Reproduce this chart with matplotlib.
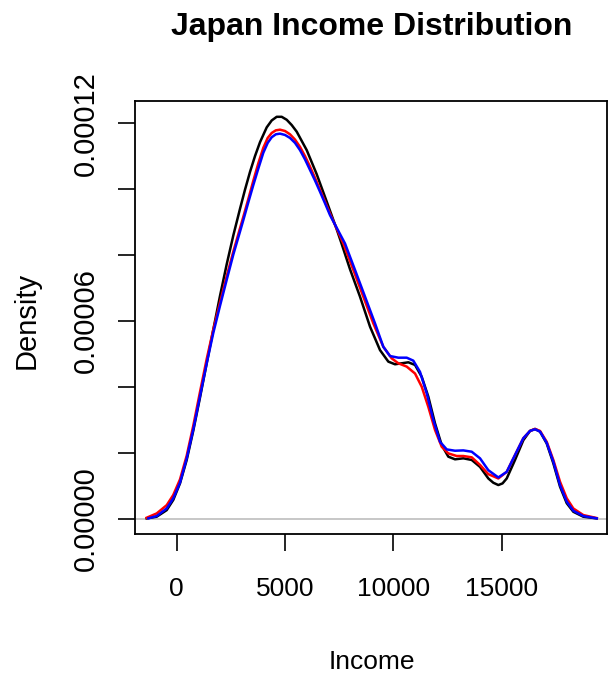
import matplotlib
matplotlib.use('Agg')
from matplotlib import pyplot as plt
import numpy as np

plt.rcParams['font.family'] = ['Liberation Sans', 'DejaVu Sans']

# values: income, density in units of 1e-5
black_x = [-1385, -923, -461, -157, 152, 462, 766, 1075, 1385, 1689, 1998, 2308, 2615, 2921,
           3152, 3383, 3614, 3844, 4154, 4385, 4615, 4846, 5077, 5308, 5538, 6000, 6461,
           6923, 7384, 7597, 7998, 8459, 8921, 9382, 9766, 10075, 10384, 10690, 10998,
           11307, 11611, 11920, 12230, 12534, 12843, 13227, 13614, 13997, 14380, 14611,
           14842, 15036, 15229, 15612, 15996, 16304, 16535, 16766, 17075, 17380, 17689,
           17998, 18303, 18765, 19383]
black_y = [0.02, 0.07, 0.27, 0.58, 1.08, 1.79, 2.68, 3.68, 4.72, 5.74, 6.76, 7.72, 8.60, 9.40,
           9.98, 10.52, 11.00, 11.42, 11.87, 12.08, 12.19, 12.19, 12.10, 11.94, 11.74, 11.18, 10.45,
           9.62, 8.78, 8.37, 7.57, 6.74, 5.83, 5.12, 4.77, 4.69, 4.72, 4.75, 4.67,
           4.31, 3.71, 2.90, 2.24, 1.89, 1.81, 1.84, 1.79, 1.58, 1.23, 1.10,
           1.03, 1.08, 1.23, 1.79, 2.39, 2.67, 2.73, 2.65, 2.29, 1.69, 0.98,
           0.48, 0.22, 0.07, 0.02]

red_x = [-1385, -923, -461, -157, 152, 462, 766, 1075, 1385, 1689, 1998, 2308, 2615, 2921,
         3075, 3306, 3535, 3766, 3997, 4200, 4384, 4575, 4767, 4998, 5229, 5460, 5690,
         5921, 6152, 6383, 6613, 6844, 7075, 7383, 7690, 8150, 8612, 9073, 9535, 9920,
         10227, 10614, 10998, 11307, 11611, 11920, 12230, 12534, 12920, 13227, 13614,
         13997, 14380, 14842, 15229, 15612, 15996, 16304, 16535, 16766, 17075, 17380,
         17689, 17998, 18303, 18765, 19383]
red_y = [0.04, 0.17, 0.42, 0.73, 1.20, 1.92, 2.83, 3.85, 4.85, 5.74, 6.56, 7.36, 8.11, 8.81,
         9.16, 9.70, 10.25, 10.78, 11.25, 11.55, 11.70, 11.78, 11.80, 11.76, 11.66, 11.50, 11.28,
         11.00, 10.68, 10.34, 9.98, 9.62, 9.26, 8.80, 8.35, 7.55, 6.74, 5.93, 5.22, 4.87,
         4.72, 4.62, 4.41, 4.01, 3.40, 2.70, 2.19, 1.99, 1.91, 1.91, 1.87,
         1.64, 1.36, 1.23, 1.43, 1.94, 2.45, 2.67, 2.73, 2.67, 2.34, 1.79,
         1.13, 0.63, 0.32, 0.12, 0.03]

blue_x = [-1308, -923, -461, -157, 152, 462, 766, 1075, 1385, 1689, 1998, 2308, 2615, 2921,
          3075, 3306, 3535, 3766, 3997, 4200, 4384, 4575, 4767, 4998, 5229, 5460, 5690,
          5921, 6152, 6383, 6613, 6844, 7075, 7421, 7767, 8228, 8690, 9151, 9535, 9844,
          10227, 10614, 10919, 11228, 11538, 11842, 12152, 12461, 12843, 13227, 13614,
          13997, 14380, 14842, 15229, 15612, 15996, 16304, 16535, 16766, 17075, 17380,
          17689, 17998, 18303, 18765, 19383]
blue_y = [0.02, 0.09, 0.32, 0.63, 1.10, 1.84, 2.72, 3.72, 4.72, 5.64, 6.46, 7.25, 8.02, 8.71,
          9.06, 9.60, 10.12, 10.62, 11.10, 11.40, 11.57, 11.66, 11.68, 11.64, 11.55, 11.40, 11.18,
          10.90, 10.58, 10.26, 9.92, 9.57, 9.21, 8.78, 8.35, 7.55, 6.74, 5.93, 5.22, 4.94,
          4.89, 4.89, 4.80, 4.46, 3.81, 3.00, 2.34, 2.11, 2.07, 2.08, 2.04,
          1.84, 1.48, 1.26, 1.43, 1.94, 2.45, 2.67, 2.72, 2.65, 2.31, 1.74,
          1.03, 0.53, 0.25, 0.09, 0.02]

x_ticks = [0, 5000, 10000, 15000]
y_ticks = [0, 2e-5, 4e-5, 6e-5, 8e-5, 10e-5, 12e-5]
y_tick_labels = ['0.00000', '', '', '0.00006', '', '', '0.00012']

fig = plt.figure(figsize=(6.1, 6.79), dpi=100)
ax = fig.add_axes([0.2213, 0.2135, 0.7738, 0.6378])

ax.axhline(0, color='#BEBEBE', lw=1.2, zorder=1)
ax.plot(black_x, np.array(black_y) * 1e-5, color='black', lw=1.8, zorder=2)
ax.plot(red_x, np.array(red_y) * 1e-5, color='red', lw=1.8, zorder=3)
ax.plot(blue_x, np.array(blue_y) * 1e-5, color='blue', lw=1.8, zorder=4)

ax.set_xlim(-1924, 19857)
ax.set_ylim(-0.4545e-5, 12.67e-5)

ax.set_xticks(x_ticks)
ax.set_xticklabels([str(v) for v in x_ticks], fontsize=19)
ax.set_yticks(y_ticks)
ax.set_yticklabels(y_tick_labels, fontsize=21, rotation=90, va='center')
ax.tick_params(axis='both', direction='out', length=12, width=1.2)
ax.tick_params(axis='x', pad=19)
ax.tick_params(axis='y', pad=13)

for s in ax.spines.values():
    s.set_linewidth(1.3)

fig.text(0.609, 0.96, 'Japan Income Distribution', ha='center', va='center',
         fontsize=23, fontweight='bold')
fig.text(0.609, 0.025, 'Income', ha='center', va='center', fontsize=19)
fig.text(0.044, 0.528, 'Density', ha='center', va='center', fontsize=21, rotation=90)

fig.savefig('out.png', dpi=100)
